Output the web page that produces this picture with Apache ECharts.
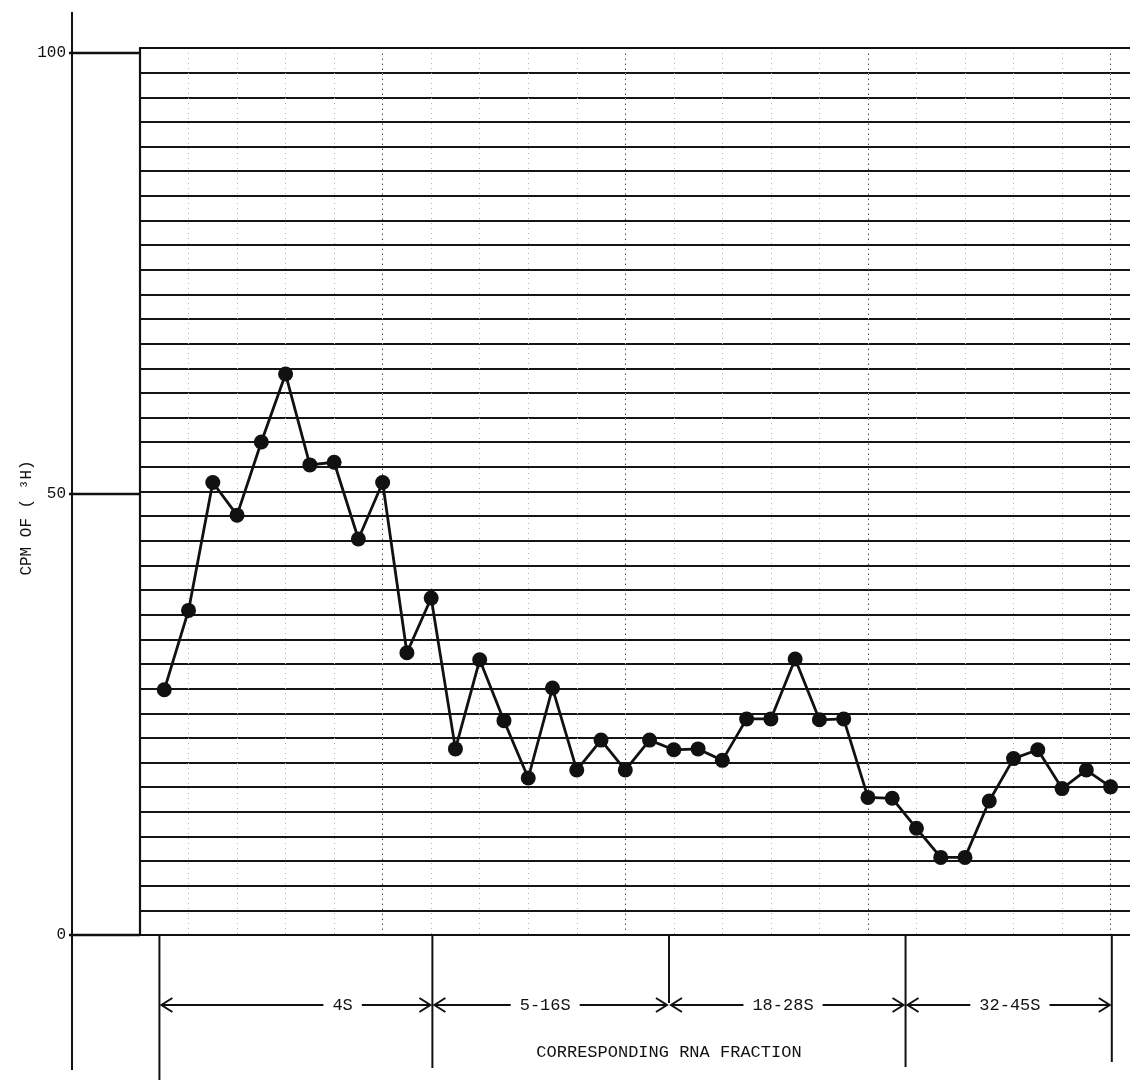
<!DOCTYPE html>
<html>
<head>
<meta charset="utf-8">
<script src="https://cdn.jsdelivr.net/npm/echarts@6/dist/echarts.min.js"></script>
<style>
  html, body { margin: 0; padding: 0; background: #fff; }
  #chart { width: 1130px; height: 1080px; }
</style>
</head>
<body>
<div id="chart"></div>
<script>
  // fraction number along the gradient and counts
  var fractions = [1, 2, 3, 4, 5, 6, 7, 8, 9, 10,
                   11, 12, 13, 14, 15, 16, 17, 18, 19, 20,
                   21, 22, 23, 24, 25, 26, 27, 28, 29, 30,
                   31, 32, 33, 34, 35, 36, 37, 38, 39, 40]
  var cpm = [27.8, 36.8, 51.3, 47.6, 55.9, 63.6, 53.3, 53.6, 44.9, 51.3,
             32.0, 38.2, 21.1, 31.2, 24.3, 17.8, 28.0, 18.7, 22.1, 18.7,
             22.1, 21.0, 21.1, 19.8, 24.5, 24.5, 31.3, 24.4, 24.5, 15.6,
             15.5, 12.1, 8.8, 8.8, 15.2, 20.0, 21.0, 16.6, 18.7, 16.8]
  var yTicks = [0, 50, 100]
  var regionNames = ['4S', '5-16S', '18-28S', '32-45S']
  var regionEdges = [0.8, 12.05, 21.8, 31.55, 40.05]
  var regionLabelAt = [8.35, 16.7, 26.5, 35.85]
  var xTitle = 'CORRESPONDING RNA FRACTION'
  var yTitle = 'CPM OF ( \u00b3H)'

  var FONT = 'Liberation Mono'
  var INK = '#111'
  var GRID_LEFT = 140
  var AXIS_OFFSET = 68
  var DROPS = [145, 133, 68, 132, 127]   // how far each divider runs below the axis

  var chart = echarts.init(document.getElementById('chart'))

  chart.setOption({
    backgroundColor: '#fff',
    animation: false,
    grid: [
      {left: GRID_LEFT, right: 0, top: 53, bottom: 145},
      {left: GRID_LEFT, right: 0, top: 48, bottom: 145}
    ],
    xAxis: [
      {
        gridIndex: 0, type: 'value', min: 0, max: 40.8, interval: 10, position: 'bottom',
        axisLine: {show: false}, axisTick: {show: false}, axisLabel: {show: false},
        splitLine: {show: true, lineStyle: {color: '#444', width: 1, type: [2, 3]}}
      },
      {
        gridIndex: 0, type: 'value', min: 0, max: 40.8, interval: 2, position: 'top',
        axisLine: {show: false}, axisTick: {show: false}, axisLabel: {show: false},
        splitLine: {show: true, lineStyle: {color: '#b5b5b5', width: 1, type: [1, 4]}}
      },
      {
        gridIndex: 1, type: 'value', min: 0, max: 1, position: 'bottom',
        axisLine: {show: true, lineStyle: {color: INK, width: 2.2}},
        axisTick: {show: false}, axisLabel: {show: false}, splitLine: {show: false}
      },
      {
        gridIndex: 1, type: 'value', min: 0, max: 1, position: 'top',
        axisLine: {show: true, lineStyle: {color: INK, width: 2.2}},
        axisTick: {show: false}, axisLabel: {show: false}, splitLine: {show: false}
      }
    ],
    yAxis: [
      {
        gridIndex: 0, type: 'value', min: yTicks[0], max: yTicks[yTicks.length - 1],
        interval: yTicks[1] - yTicks[0], offset: AXIS_OFFSET,
        axisLine: {show: true, lineStyle: {color: INK, width: 2}},
        axisTick: {show: false},
        axisLabel: {margin: 6, color: INK, fontFamily: FONT, fontSize: 16},
        splitLine: {show: false}
      },
      {
        gridIndex: 1, type: 'value', min: 0, max: 36, interval: 1,
        axisLine: {show: true, lineStyle: {color: INK, width: 2.2}},
        axisTick: {show: false}, axisLabel: {show: false},
        splitLine: {show: true, lineStyle: {color: '#151515', width: 1.9}}
      }
    ],
    series: [{
      type: 'line',
      xAxisIndex: 0,
      yAxisIndex: 0,
      data: fractions.map(function (f, i) { return [f, cpm[i]] }),
      symbol: 'circle',
      symbolSize: 15,
      lineStyle: {color: INK, width: 2.8},
      itemStyle: {color: INK},
      z: 10
    }]
  })

  // ticks, brackets and titles, placed through the axis scales
  var baseY = chart.convertToPixel({yAxisIndex: 0}, 0)
  var arrowY = baseY + 70
  var axisX = GRID_LEFT - AXIS_OFFSET
  var charW = 10.2
  var lineStyle = {stroke: INK, lineWidth: 2}
  var graphic = []

  graphic.push({type: 'line', shape: {x1: axisX, y1: 12, x2: axisX, y2: 1070}, style: lineStyle})

  yTicks.forEach(function (v) {
    var y = chart.convertToPixel({yAxisIndex: 0}, v)
    graphic.push({type: 'line', shape: {x1: axisX - 3, y1: y, x2: GRID_LEFT, y2: y}, style: {stroke: INK, lineWidth: 2.6}})
  })

  var edgePx = regionEdges.map(function (e) { return chart.convertToPixel({xAxisIndex: 0}, e) })
  edgePx.forEach(function (x, i) {
    graphic.push({type: 'line', shape: {x1: x, y1: baseY, x2: x, y2: baseY + DROPS[i]}, style: lineStyle})
  })

  regionNames.forEach(function (name, i) {
    var lx = chart.convertToPixel({xAxisIndex: 0}, regionLabelAt[i])
    var half = name.length * charW / 2
    var x0 = edgePx[i] + 2
    var x1 = edgePx[i + 1] - 2
    graphic.push({type: 'line', shape: {x1: x0, y1: arrowY, x2: lx - half - 9, y2: arrowY}, style: lineStyle})
    graphic.push({type: 'line', shape: {x1: lx + half + 9, y1: arrowY, x2: x1, y2: arrowY}, style: lineStyle})
    graphic.push({type: 'polyline', shape: {points: [[x0 + 11, arrowY - 7], [x0, arrowY], [x0 + 11, arrowY + 7]]}, style: {stroke: INK, lineWidth: 2, fill: null}})
    graphic.push({type: 'polyline', shape: {points: [[x1 - 11, arrowY - 7], [x1, arrowY], [x1 - 11, arrowY + 7]]}, style: {stroke: INK, lineWidth: 2, fill: null}})
    graphic.push({
      type: 'text', x: lx, y: arrowY,
      style: {text: name, fill: INK, font: '17px "' + FONT + '"', align: 'center', verticalAlign: 'middle'}
    })
  })

  graphic.push({
    type: 'text', x: (edgePx[1] + edgePx[3]) / 2, y: baseY + 117,
    style: {text: xTitle, fill: INK, font: '17px "' + FONT + '"', align: 'center', verticalAlign: 'middle'}
  })
  graphic.push({
    type: 'text', x: 27, y: 518, rotation: Math.PI / 2,
    style: {text: yTitle, fill: INK, font: '16px "' + FONT + '"', align: 'center', verticalAlign: 'middle'}
  })

  chart.setOption({graphic: graphic})
</script>
</body>
</html>
